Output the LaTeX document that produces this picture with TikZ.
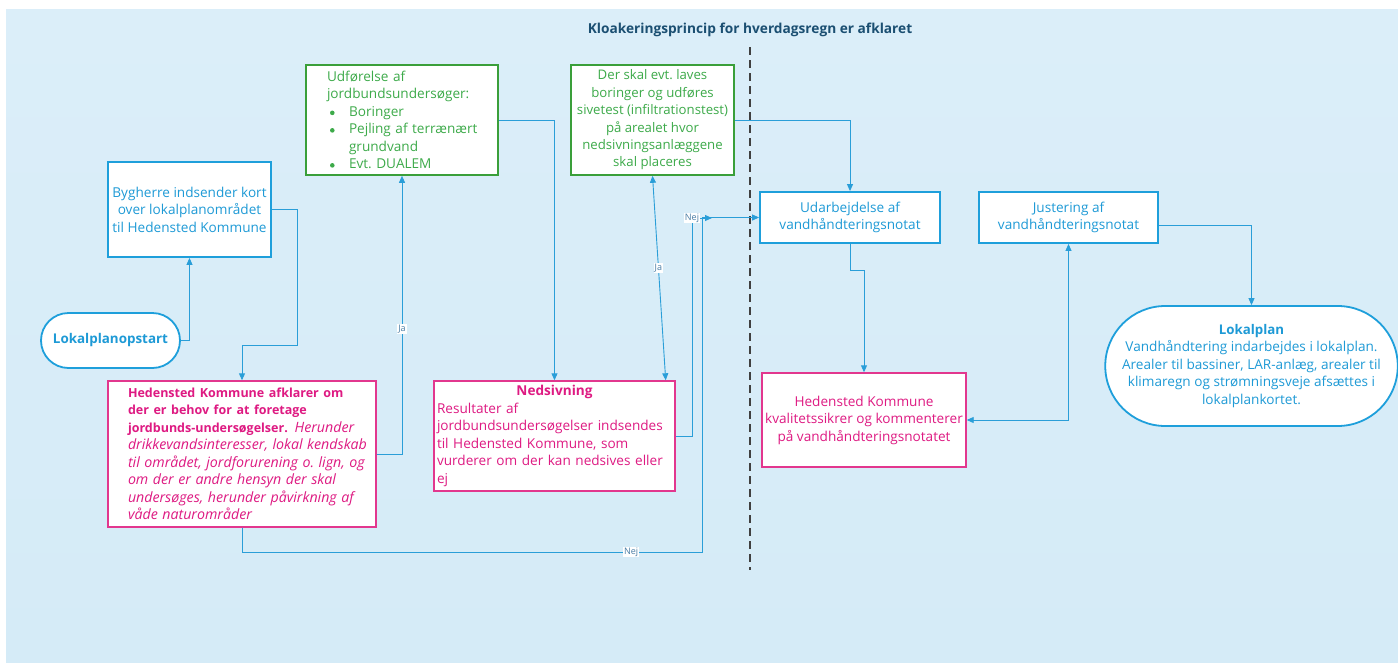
\documentclass[tikz,border=0pt]{standalone}
\usepackage{fontspec}
\setmainfont{Open Sans}
\usetikzlibrary{arrows.meta,shapes.misc,calc}
\definecolor{bgtop}{HTML}{DBEEF9}
\definecolor{bgbot}{HTML}{D5EBF7}
\definecolor{cblue}{HTML}{1E9FDB}
\definecolor{tblue}{HTML}{1E9AD6}
\definecolor{ttl}{HTML}{1B4F72}
\definecolor{cgreen}{HTML}{3A9F3A}
\definecolor{tgreen}{HTML}{3DAA4A}
\definecolor{cmag}{HTML}{E2378E}
\definecolor{tmag}{HTML}{DE1A82}
\definecolor{cline}{HTML}{2A9ED8}
\definecolor{lbltext}{HTML}{4A7DA5}
\definecolor{sep}{HTML}{404040}
\newcommand\grnbul{\tikz[baseline=-3.5pt]\fill[tgreen] (0pt,0pt) circle (2.3pt);}
\newcommand\bfa[1]{{\fontsize{12.5}{17.5}\selectfont\bfseries #1}}
\newcommand\ita[1]{{\fontsize{14.2}{17.5}\selectfont\itshape #1}}
\newcommand\lne[1]{\mbox{#1}}
\begin{document}
\begin{tikzpicture}[x=1pt,y=-1pt,
  txt/.style={font=\fontsize{13.6}{17.5}\selectfont},
  bluebox/.style={txt,draw=cblue,line width=1.8pt,fill=white,text=tblue,align=center,inner sep=0pt},
  greenbox/.style={txt,draw=cgreen,line width=1.6pt,fill=white,text=tgreen,inner sep=0pt},
  magbox/.style={txt,draw=cmag,line width=1.4pt,fill=white,text=tmag,inner sep=0pt},
  stadium/.style={txt,rounded rectangle,draw=cblue,line width=1.8pt,fill=white,text=tblue,align=center,inner sep=0pt},
  conn/.style={draw=cline,line width=0.9pt,-{Triangle[length=7pt,width=6pt]}},
  conn2/.style={draw=cline,line width=0.9pt,{Triangle[length=7pt,width=6pt]}-{Triangle[length=7pt,width=6pt]}},
  lbl/.style={fill=white,inner sep=1pt,text=lbltext,font=\fontsize{9}{10}\selectfont},
  sepline/.style={draw=sep,line width=1.6pt,dash pattern=on 8pt off 5pt}
]
\useasboundingbox (0,0) rectangle (1398,662);
\fill[white] (0,0) rectangle (1398,662);
\shade[top color=bgtop,bottom color=bgbot] (6,9) rectangle (1398,662);

\node[font=\bfseries\fontsize{13.7}{16}\selectfont,text=ttl] (title) at (750,30) {Kloakeringsprincip for hverdagsregn er afklaret};
\coordinate (sepT) at (750,47);
\coordinate (sepB) at (750,570);
\draw[sepline] (sepT) -- (sepB);

\node[bluebox,minimum width=163,minimum height=95] (byg) at (189.5,209.5)
  {Bygherre indsender kort\\over lokalplanområdet\\til Hedensted Kommune};
\node[stadium,minimum width=139,minimum height=55,font=\bfseries\fontsize{13.4}{15}\selectfont] (start) at (110.5,340.5) {Lokalplanopstart};

\node[magbox,minimum width=268,minimum height=146,text width=228,align=left] (afk) at (242,454)
  {\lne{\bfa{Hedensted Kommune afklarer om}}\\\lne{\bfa{der er behov for at foretage}}\\\lne{\bfa{jordbunds-undersøgelser.} \ita{Herunder}}\\\lne{\ita{drikkevandsinteresser, lokal kendskab}}\\\lne{\ita{til området, jordforurening o.\ lign, og}}\\\lne{\ita{om der er andre hensyn der skal}}\\\lne{\ita{undersøges, herunder påvirkning af}}\\\lne{\ita{våde naturområder}}};

\node[greenbox,minimum width=192,minimum height=110,text width=150,align=left] (udf) at (402,120)
  {\lne{Udførelse af}\\\lne{jordbundsundersøger:}\\\lne{\makebox[3pt]{}\makebox[19pt][l]{\grnbul}Boringer}\\\lne{\makebox[3pt]{}\makebox[19pt][l]{\grnbul}Pejling af terrænært}\\\lne{\makebox[22pt]{}grundvand}\\\lne{\makebox[3pt]{}\makebox[19pt][l]{\grnbul}Evt.\ DUALEM}};

\node[greenbox,minimum width=163,minimum height=110,align=center,font=\fontsize{13.2}{17.4}\selectfont] (dsk) at (652.5,120)
  {Der skal evt.\ laves\\boringer og udføres\\sivetest (infiltrationstest)\\på arealet hvor\\nedsivningsanlæggene\\skal placeres};

\node[magbox,minimum width=241,minimum height=110,text width=235,align=left] (neds) at (554.5,436)
  {\makebox[\linewidth]{\textbf{Nedsivning}}\\\lne{Resultater af}\\\lne{jordbundsundersøgelser indsendes}\\\lne{til Hedensted Kommune, som}\\\lne{vurderer om der kan nedsives eller}\\\lne{ej}};

\node[bluebox,minimum width=180,minimum height=51] (udarb) at (850,217.5)
  {Udarbejdelse af\\vandhåndteringsnotat};
\node[bluebox,minimum width=179,minimum height=51] (just) at (1068.5,217.5)
  {Justering af\\vandhåndteringsnotat};
\node[magbox,minimum width=204,minimum height=94,align=center] (kval) at (864,420)
  {Hedensted Kommune\\kvalitetssikrer og kommenterer\\på vandhåndteringsnotatet};
\node[stadium,minimum width=277,minimum height=120] (lok) at (1251.5,366)
  {{\fontsize{13.3}{17.5}\selectfont\bfseries Lokalplan}\\Vandhåndtering indarbejdes i lokalplan.\\Arealer til bassiner, LAR-anlæg, arealer til\\klimaregn og strømningsveje afsættes i\\lokalplankortet.};

% connectors
\draw[conn] (start.east) -| (byg.south);
\coordinate (c1) at (297,345);
\draw[conn] (byg.east) -| (c1) -| (afk.north);
\draw[conn] (afk.east) -| node[lbl,pos=0.725]{Ja} (udf.south);
\draw[conn] (udf.east) -| (neds.north);
\draw[conn2] (dsk.south) -- node[lbl,pos=0.45]{Ja} ($(neds.north east)+(-10,0)$);
\draw[conn] (dsk.east) -| (udarb.north);
\coordinate (nejA) at (692,218);
\coordinate (nejB) at (712,218);
\draw[conn] (neds.east) -| (nejA) -- (nejB);
\node[lbl] (nejlbl) at (nejA) {Nej};
\coordinate (nejC) at (702,552);
\draw[conn] (afk.south) |- node[lbl,pos=0.923]{Nej} (nejC) |- (udarb.west);
\draw[conn] (udarb.south) -- ++(0,27) -| (kval.north);
\draw[conn2] (kval.east) -| (just.south);
\draw[conn] ($(just.east)+(0,8)$) -| (lok.north);
\end{tikzpicture}
\end{document}
